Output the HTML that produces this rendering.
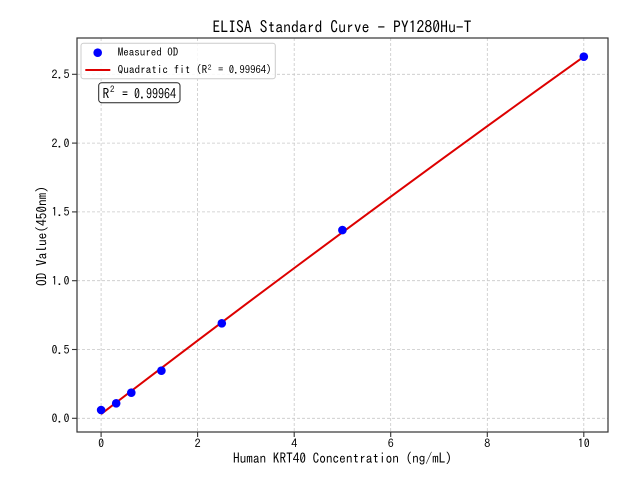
<!DOCTYPE html>
<html>
<head>
<meta charset="utf-8">
<style>
  html,body{margin:0;padding:0;background:#fff;}
  svg{display:block;}
  text{font-family:"IPAGothic","Liberation Mono",monospace;fill:#000;}
</style>
</head>
<body>
<svg width="640" height="480" viewBox="0 0 640 480" xmlns="http://www.w3.org/2000/svg">
  <rect x="0" y="0" width="640" height="480" fill="#fff"/>

  <!-- Title -->
  <text x="342" y="33" font-size="16" text-anchor="middle" textLength="259" lengthAdjust="spacingAndGlyphs">ELISA Standard Curve - PY1280Hu-T</text>

  <!-- grid -->
  <g stroke="#c8c8c8" stroke-width="0.8" stroke-dasharray="3,2" fill="none">
    <line x1="101.1" y1="38" x2="101.1" y2="432"/>
    <line x1="197.6" y1="38" x2="197.6" y2="432"/>
    <line x1="294.2" y1="38" x2="294.2" y2="432"/>
    <line x1="390.7" y1="38" x2="390.7" y2="432"/>
    <line x1="487.3" y1="38" x2="487.3" y2="432"/>
    <line x1="583.8" y1="38" x2="583.8" y2="432"/>
    <line x1="77" y1="418.3" x2="608" y2="418.3"/>
    <line x1="77" y1="349.5" x2="608" y2="349.5"/>
    <line x1="77" y1="280.7" x2="608" y2="280.7"/>
    <line x1="77" y1="211.9" x2="608" y2="211.9"/>
    <line x1="77" y1="143.1" x2="608" y2="143.1"/>
    <line x1="77" y1="74.3" x2="608" y2="74.3"/>
  </g>

  <!-- fit line -->
  <polyline fill="none" stroke="#dd0000" stroke-width="2" stroke-linejoin="round" stroke-linecap="butt"
    points="101.1,414.03 149.37,377.19 197.64,340.58 245.91,304.23 294.18,268.12 342.45,232.26 390.72,196.65 438.99,161.29 487.26,126.18 535.53,91.31 583.8,56.69"/>

  <!-- points -->
  <g fill="#0000ff">
    <circle cx="101.1" cy="410.0" r="4.3"/>
    <circle cx="116.2" cy="403.3" r="4.3"/>
    <circle cx="131.3" cy="392.7" r="4.3"/>
    <circle cx="161.4" cy="370.7" r="4.3"/>
    <circle cx="221.8" cy="323.3" r="4.3"/>
    <circle cx="342.4" cy="230.1" r="4.3"/>
    <circle cx="583.8" cy="56.7" r="4.3"/>
  </g>

  <!-- spines -->
  <rect x="77" y="38" width="531" height="394" fill="none" stroke="#333" stroke-width="1.2"/>

  <!-- ticks -->
  <g stroke="#333" stroke-width="1.1">
    <line x1="101.1" y1="432" x2="101.1" y2="437"/>
    <line x1="197.6" y1="432" x2="197.6" y2="437"/>
    <line x1="294.2" y1="432" x2="294.2" y2="437"/>
    <line x1="390.7" y1="432" x2="390.7" y2="437"/>
    <line x1="487.3" y1="432" x2="487.3" y2="437"/>
    <line x1="583.8" y1="432" x2="583.8" y2="437"/>
    <line x1="72" y1="418.3" x2="77" y2="418.3"/>
    <line x1="72" y1="349.5" x2="77" y2="349.5"/>
    <line x1="72" y1="280.7" x2="77" y2="280.7"/>
    <line x1="72" y1="211.9" x2="77" y2="211.9"/>
    <line x1="72" y1="143.1" x2="77" y2="143.1"/>
    <line x1="72" y1="74.3" x2="77" y2="74.3"/>
  </g>

  <!-- x tick labels -->
  <g font-size="12" text-anchor="middle">
    <text x="101.1" y="447.5">0</text>
    <text x="197.6" y="447.5">2</text>
    <text x="294.2" y="447.5">4</text>
    <text x="390.7" y="447.5">6</text>
    <text x="487.3" y="447.5">8</text>
    <text x="583.8" y="447.5" textLength="12" lengthAdjust="spacingAndGlyphs">10</text>
  </g>

  <!-- y tick labels -->
  <g font-size="12" text-anchor="end">
    <text x="69.5" y="422.6" textLength="18" lengthAdjust="spacingAndGlyphs">0.0</text>
    <text x="69.5" y="353.8" textLength="18" lengthAdjust="spacingAndGlyphs">0.5</text>
    <text x="69.5" y="285.0" textLength="18" lengthAdjust="spacingAndGlyphs">1.0</text>
    <text x="69.5" y="216.2" textLength="18" lengthAdjust="spacingAndGlyphs">1.5</text>
    <text x="69.5" y="147.4" textLength="18" lengthAdjust="spacingAndGlyphs">2.0</text>
    <text x="69.5" y="78.6" textLength="18" lengthAdjust="spacingAndGlyphs">2.5</text>
  </g>

  <!-- axis labels -->
  <text x="342.5" y="463" font-size="13.3" text-anchor="middle" textLength="219" lengthAdjust="spacingAndGlyphs">Human KRT40 Concentration (ng/mL)</text>
  <text transform="translate(46.5,236) rotate(-90)" font-size="13.3" text-anchor="middle" textLength="100" lengthAdjust="spacingAndGlyphs">OD Value(450nm)</text>

  <!-- legend -->
  <rect x="81" y="43.3" width="194.3" height="35.4" rx="2.5" ry="2.5" fill="#ffffff" fill-opacity="0.85" stroke="#cccccc" stroke-width="1"/>
  <circle cx="97.7" cy="52.7" r="4.3" fill="#0000ff"/>
  <line x1="85.3" y1="70" x2="110.3" y2="70" stroke="#dd0000" stroke-width="2"/>
  <text x="117.7" y="56" font-size="11" textLength="60.5" lengthAdjust="spacingAndGlyphs">Measured OD</text>
  <text x="117.7" y="73.3" font-size="11" textLength="89.5" lengthAdjust="spacingAndGlyphs">Quadratic fit (R</text>
  <text x="207.8" y="70" font-size="7.5">2</text>
  <text x="218" y="73.3" font-size="11" textLength="53.5" lengthAdjust="spacingAndGlyphs">= 0.99964)</text>

  <!-- R2 box -->
  <rect x="98.7" y="82.7" width="81.3" height="20" rx="3" ry="3" fill="#ffffff" stroke="#222" stroke-width="1"/>
  <text x="102.5" y="98.7" font-size="13.3" textLength="6.8" lengthAdjust="spacingAndGlyphs">R</text>
  <text x="110" y="92.6" font-size="9">2</text>
  <text x="122" y="98.7" font-size="13.3" textLength="54" lengthAdjust="spacingAndGlyphs">= 0.99964</text>
</svg>
</body>
</html>
